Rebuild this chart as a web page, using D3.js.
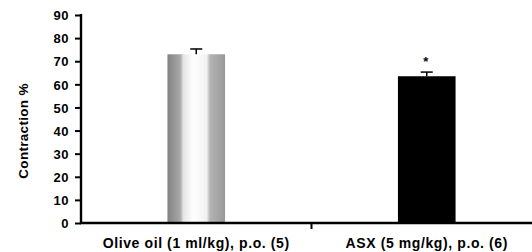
<!DOCTYPE html>
<html>
<head>
<meta charset="utf-8">
<script src="https://cdn.jsdelivr.net/npm/d3@7"></script>
<style>
  body { margin: 0; background: #fff; }
  text { font-family: "Liberation Sans", Arial, sans-serif; font-weight: bold; }
</style>
</head>
<body>
<svg id="chart" width="532" height="252"></svg>
<script>
const groups = ['Olive oil (1 ml/kg), p.o. (5)', 'ASX (5 mg/kg), p.o. (6)'];
const means = [73, 63.5];
const errors = [2.3, 1.8];
const marks = ['', '*'];
const yTicks = [0, 10, 20, 30, 40, 50, 60, 70, 80, 90];

const svg = d3.select('#chart');
const padLeft = 81, padBottom = 223, padTop = 15, padRight = 542;

const x = d3.scaleBand().domain(groups).range([padLeft, padRight]).padding(0);
const y = d3.scaleLinear().domain([0, 90]).range([padBottom, padTop]);

// cylinder-like shading for the control bar
const defs = svg.append('defs');
const grad = defs.append('linearGradient').attr('id', 'cyl');
[[0, '#828282'], [0.22, '#a8a8a8'], [0.28, '#e6e6e6'], [0.45, '#ffffff'],
 [0.68, '#f2f2f2'], [0.74, '#b4b4b4'], [1, '#989898']].forEach(function(s) {
  grad.append('stop').attr('offset', s[0]).attr('stop-color', s[1]);
});

const barW = x.bandwidth() * 0.25;
const cx = (d) => x(d) + x.bandwidth() / 2;

svg.append('g').selectAll('rect').data(groups).enter()
  .append('rect')
  .attr('x', (d) => cx(d) - barW / 2)
  .attr('y', (d, i) => y(means[i]))
  .attr('width', barW)
  .attr('height', (d, i) => y(0) - y(means[i]))
  .attr('fill', (d, i) => i === 0 ? 'url(#cyl)' : '#000');

// error bars (upper only)
const eb = svg.append('g').attr('stroke', '#000').attr('stroke-width', 1.5);
groups.forEach(function(g, i) {
  eb.append('line').attr('x1', cx(g)).attr('x2', cx(g))
    .attr('y1', y(means[i])).attr('y2', y(means[i] + errors[i]));
  eb.append('line').attr('x1', cx(g) - 6).attr('x2', cx(g) + 6)
    .attr('y1', y(means[i] + errors[i])).attr('y2', y(means[i] + errors[i]));
});

svg.append('g').selectAll('text.mark').data(groups).enter()
  .append('text')
  .attr('x', (d) => cx(d) - 1)
  .attr('y', (d, i) => y(means[i] + errors[i]) - 6)
  .attr('text-anchor', 'middle')
  .attr('font-size', '13px')
  .text((d, i) => marks[i]);

// y axis
const yAxis = svg.append('g')
  .attr('transform', `translate(${padLeft},0)`)
  .call(d3.axisLeft(y).tickValues(yTicks).tickSize(6).tickPadding(6));
yAxis.select('.domain').attr('stroke-width', 2.4).attr('d', `M0,${padTop - 1}V${padBottom}`);
yAxis.selectAll('.tick line').attr('stroke-width', 2);
yAxis.selectAll('.tick text').attr('font-size', '13px').attr('fill', '#000')
  .attr('letter-spacing', '0.5px').attr('dy', '0.36em')
  .style('font-weight', 'bold');

// x axis
const xAxis = svg.append('g')
  .attr('transform', `translate(0,${padBottom})`)
  .call(d3.axisBottom(x).tickSize(0).tickPadding(15));
xAxis.select('.domain').attr('stroke-width', 2.4).attr('d', `M${padLeft - 1},0H${padRight}`);
xAxis.selectAll('.tick text').attr('font-size', '14px').attr('fill', '#000')
  .attr('letter-spacing', '0.6px')
  .style('font-weight', 'bold');
xAxis.append('line')
  .attr('x1', x(groups[1])).attr('x2', x(groups[1]))
  .attr('y1', 0).attr('y2', 6)
  .attr('stroke', '#000').attr('stroke-width', 2);

svg.append('text')
  .attr('transform', 'translate(28,131) rotate(-90)')
  .attr('text-anchor', 'middle')
  .attr('font-size', '13.5px')
  .attr('letter-spacing', '0.3px')
  .text('Contraction %');
</script>
</body>
</html>
